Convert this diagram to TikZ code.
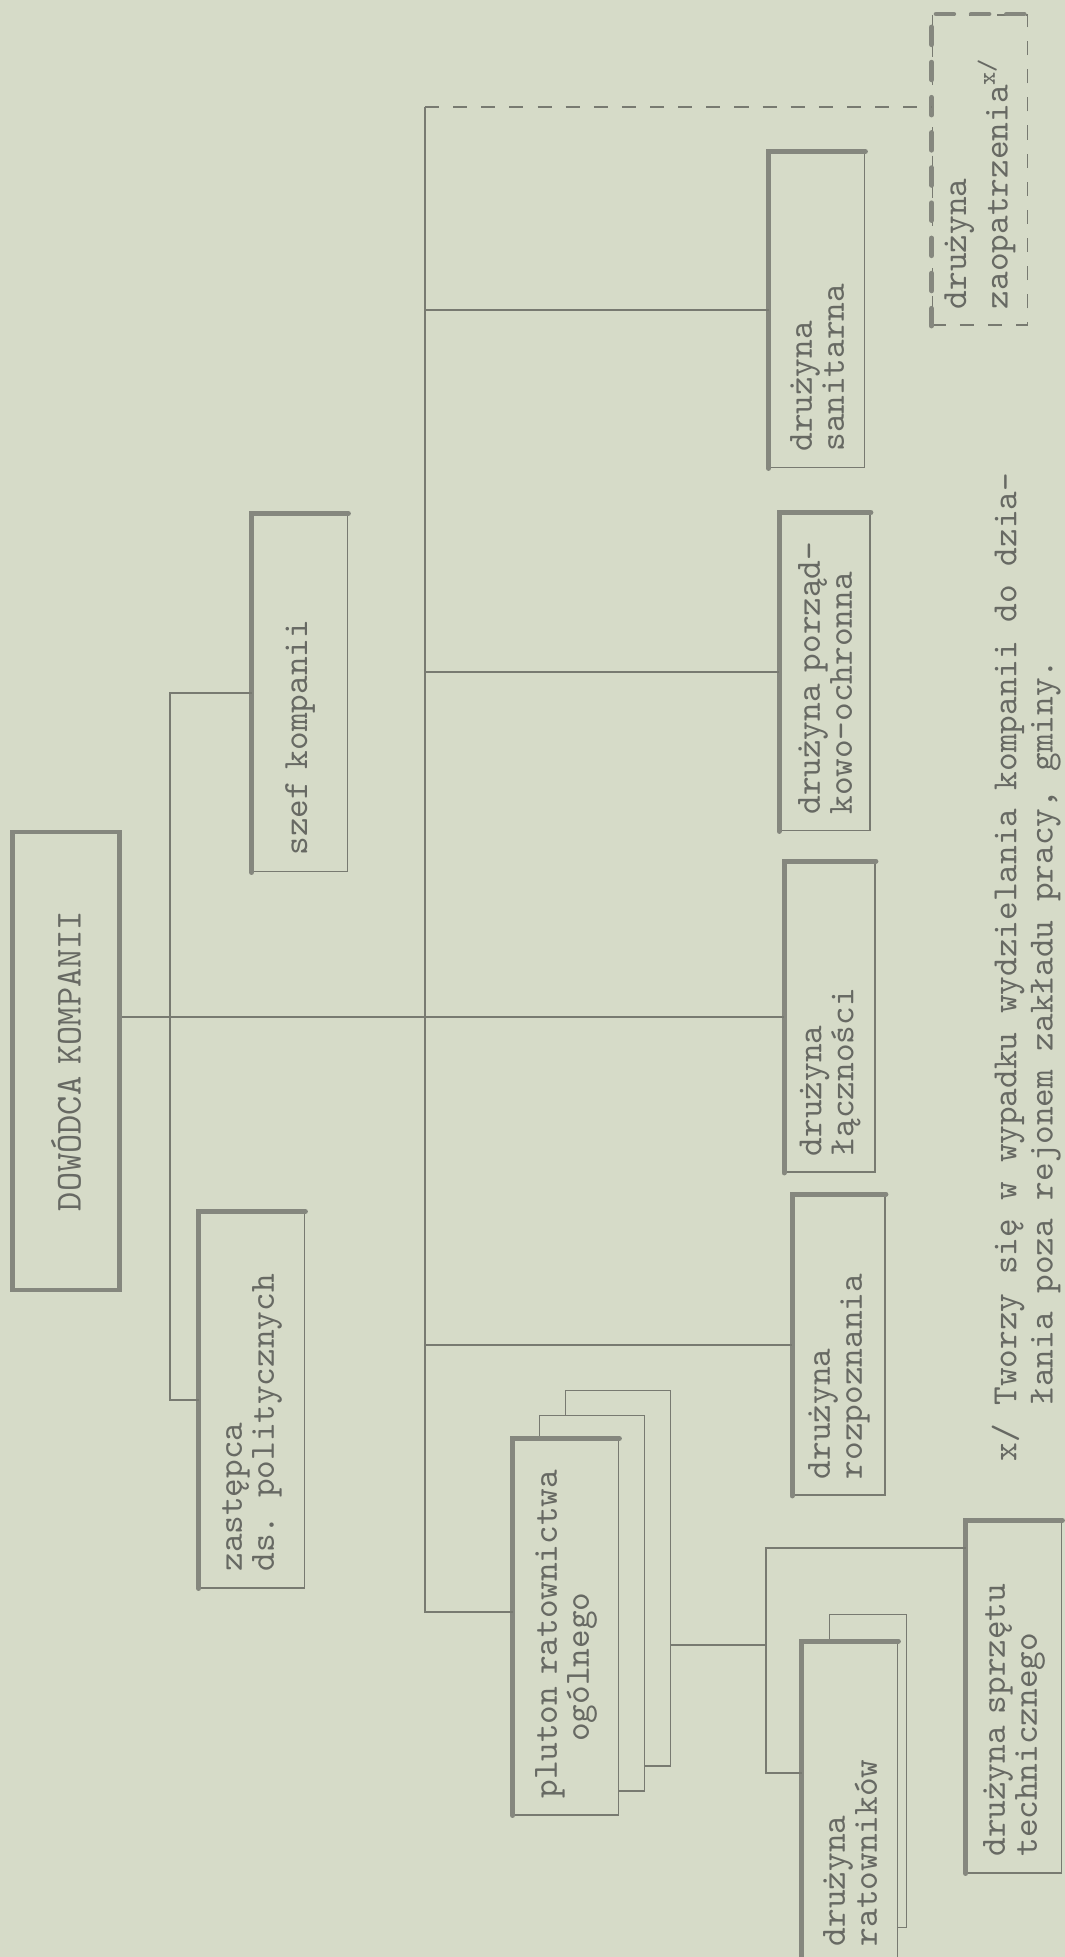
\documentclass[tikz,border=0pt]{standalone}
\usepackage{fontspec}
\usetikzlibrary{positioning}
\definecolor{paper} {HTML}{D6DBC8}
\definecolor{ink}   {HTML}{787A71}
\definecolor{shade} {HTML}{85877E}
\definecolor{type}  {HTML}{676963}
\newcommand\typer[2]{\ttfamily\fontsize{#1}{#2}\selectfont
  \fontdimen3\font=0pt\fontdimen4\font=0pt}
\tikzset{
  every node/.style={font=\typer{10.1}{9.1}, text=type},
  % --- nodes
  unit/.style  = {draw=ink, line width=0.5pt, rotate=90, align=left,
                  inner xsep=0.16cm, inner ysep=0pt, fill=paper},
  chief/.style = {unit, line width=1.2pt, draw=shade, align=center,
                  font=\typer{10.4}{10}},
  spare/.style = {unit, dashed, dash pattern=on 4pt off 4pt},
  note/.style  = {rotate=90, align=left, inner sep=0pt, anchor=north west,
                  font=\typer{10.1}{8.1}},
  % --- edges
  link/.style  = {draw=ink, line width=0.5pt},
  rim/.style   = {draw=shade, line width=1.4pt, line cap=round},
}
\begin{document}
\begin{tikzpicture}[x=0.01cm, y=-0.01cm]
  \fill[paper] (0,0) rectangle (1065,1957);
  \useasboundingbox (0,0) rectangle (1065,1957);

  % command
  \node[chief, text width=4.25cm, minimum height=1.07cm] (dow) at (66,1061) {DOWÓDCA KOMPANII};
  \node[unit, text width=3.25cm, minimum height=0.95cm] (szef) at (300,693) {szef kompanii};
  \node[unit, text width=3.43cm, minimum height=1.05cm] (zast) at (252,1400) {zastępca\\ds. politycznych};

  % squads on the bus
  \node[spare, text width=2.78cm, minimum height=0.95cm] (zaop) at (980,170) {drużyna\\zaopatrzenia\textsuperscript{x/}};
  \node[unit, text width=2.83cm, minimum height=0.95cm] (san) at (817,310) {drużyna\\sanitarna};
  \node[unit, text width=2.85cm, minimum height=0.90cm] (porz) at (825,672) {drużyna porząd-\\kowo-ochronna};
  \node[unit, text width=2.78cm, minimum height=0.90cm] (lacz) at (830,1017) {drużyna\\łączności};
  \node[unit, text width=2.68cm, minimum height=0.92cm] (rozp) at (839,1345) {drużyna\\rozpoznania};

  % platoon (stacked)
  \node[unit, text width=3.43cm, minimum height=1.05cm] (pl3) at (618,1578) {};
  \node[unit, text width=3.43cm, minimum height=1.05cm] (pl2) at (592,1603) {};
  \node[unit, text width=3.43cm, minimum height=1.05cm] (pl1) at (566,1627) {pluton ratownictwa\\\hspace*{1.6em}ogólnego};

  % under the platoon
  \node[unit, text width=2.81cm, minimum height=0.77cm] (rat2) at (868,1771) {};
  \node[unit, text width=2.88cm, minimum height=0.95cm] (rat1) at (850,1802) {drużyna\\ratowników};
  \node[unit, text width=3.19cm, minimum height=0.95cm] (sprz) at (1014,1697) {drużyna sprzętu\\technicznego};

  % thick rims on the left and top of each box
  \foreach \n in {szef,zast,san,porz,lacz,rozp,pl1,rat1,sprz}
    \draw[rim] (\n.north west) -- (\n.north east) -- (\n.south east);
  \draw[rim, dashed, dash pattern=on 5pt off 5pt] (zaop.north west) -- (zaop.north east) -- (zaop.south east);

  % junctions
  \coordinate (vl) at (170,0);
  \coordinate (bt) at (425,107);
  \coordinate (bb) at (425,1612);
  \coordinate (sv) at (766,1645);
  \coordinate (st) at (766,1548);
  \coordinate (sb) at (766,1773);

  % connectors
  \draw[link] (szef.north) -- (szef.north -| vl) |- (zast.north);
  \draw[link] (dow.south |- lacz.north) -- (lacz.north);
  \draw[link] (bt) -- (bb) -- (bb -| pl1.north);
  \draw[link, dashed, dash pattern=on 4pt off 4pt] (bt) -- (bt -| zaop.north);
  \draw[link] (bt |- san.north) -- (san.north);
  \draw[link] (bt |- porz.north) -- (porz.north);
  \draw[link] (bt |- rozp.north) -- (rozp.north);
  \draw[link] (pl3.south |- sv) -- (sv);
  \draw[link] (st -| sprz.north) -- (st) -- (sb) -- (sb -| rat1.north);

  % footnote
  \node[note] (fn) at (991,1462) {x/ Tworzy się w wypadku wydzielania kompanii do dzia-\\
    \phantom{x/ }łania poza rejonem zakładu pracy, gminy.};
\end{tikzpicture}
\end{document}
